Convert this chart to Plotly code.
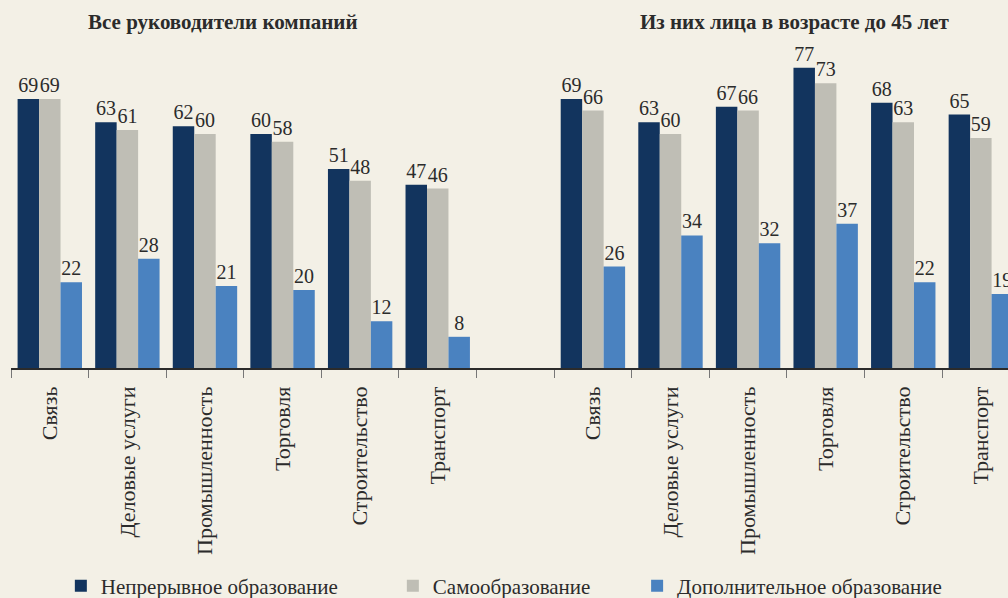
import plotly.graph_objects as go

# categories (a blank slot separates the two groups)
sectors = ["Связь", "Деловые услуги", "Промышленность", "Торговля", "Строительство", "Транспорт"]
slot_ids = [f"a{i}" for i in range(6)] + ["gap"] + [f"b{i}" for i in range(6)]
slot_labels = sectors + [""] + sectors

series_names = ["Непрерывное образование", "Самообразование", "Дополнительное образование"]

# Все руководители компаний
all_cont = [69, 63, 62, 60, 51, 47]
all_self = [69, 61, 60, 58, 48, 46]
all_add = [22, 28, 21, 20, 12, 8]

# Из них лица в возрасте до 45 лет
young_cont = [69, 63, 67, 77, 68, 65]
young_self = [66, 60, 66, 73, 63, 59]
young_add = [26, 34, 32, 37, 22, 19]

COLORS = ["#12345e", "#bfbeb5", "#4a82c0"]
BG = "#f3f0e6"
FONT = "Liberation Serif"
INK = "#2b2b2b"

values = [
    all_cont + [None] + young_cont,
    all_self + [None] + young_self,
    all_add + [None] + young_add,
]

fig = go.Figure()
legend_x = [0.050, 0.383, 0.628]
for i, name in enumerate(series_names):
    fig.add_trace(go.Bar(
        x=slot_ids,
        y=values[i],
        name=name,
        marker=dict(color=COLORS[i], line=dict(width=0)),
        text=[str(v) if v is not None else "" for v in values[i]],
        textposition="outside",
        textfont=dict(family=FONT, size=20, color=INK),
        cliponaxis=False,
        constraintext="none",
        legend="legend" if i == 0 else f"legend{i + 1}",
    ))

legend_style = dict(
    orientation="h", yanchor="middle", y=-0.699, xanchor="left",
    bgcolor="rgba(0,0,0,0)", font=dict(family=FONT, size=21, color=INK),
    itemwidth=30,
)

fig.update_layout(
    width=1008,
    height=598,
    margin=dict(l=11, r=0, t=56, b=230, autoexpand=False),
    paper_bgcolor=BG,
    plot_bgcolor=BG,
    barmode="group",
    bargap=0.17,
    bargroupgap=0,
    showlegend=True,
    legend=dict(legend_style, x=legend_x[0]),
    legend2=dict(legend_style, x=legend_x[1]),
    legend3=dict(legend_style, x=legend_x[2]),
    xaxis=dict(
        type="category",
        range=[-0.5, 12.35],
        automargin=False,
        tickmode="array",
        tickvals=slot_ids,
        ticktext=slot_labels,
        tickson="boundaries",
        ticks="outside",
        ticklen=8,
        tickcolor="#777777",
        tickangle=-90,
        ticklabelstandoff=8,
        tickfont=dict(family=FONT, size=22, color=INK),
        showline=True,
        linecolor=INK,
        linewidth=1.5,
        showgrid=False,
        zeroline=False,
    ),
    yaxis=dict(
        range=[0, 80],
        visible=False,
        automargin=False,
        showgrid=False,
        zeroline=False,
    ),
    annotations=[
        dict(text="<b>Все руководители компаний</b>", xref="paper", yref="paper",
             x=0.213, y=1.109, showarrow=False, xanchor="center", yanchor="middle",
             font=dict(family=FONT, size=21, color=INK)),
        dict(text="<b>Из них лица в возрасте до 45 лет</b>", xref="paper", yref="paper",
             x=0.786, y=1.109, showarrow=False, xanchor="center", yanchor="middle",
             font=dict(family=FONT, size=21, color=INK)),
    ],
)

# the page's default body margin would shift the figure by 8px
fig.write_html(
    "out.html",
    config={"displayModeBar": False},
    post_script="document.body.style.margin='0px';document.body.style.background='#f3f0e6';",
)
